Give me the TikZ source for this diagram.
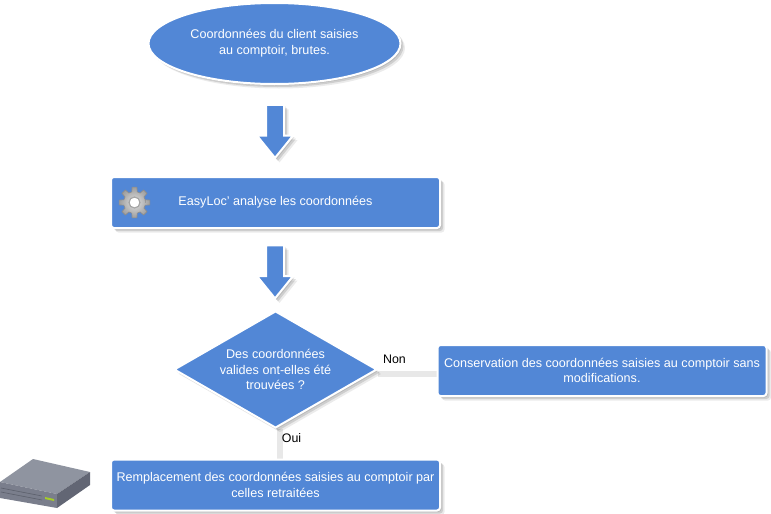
\documentclass[tikz,border=0pt]{standalone}
\usepackage{fontspec}
\setmainfont{Liberation Sans}
\usetikzlibrary{shapes.geometric,shapes.arrows,shadows,backgrounds,calc}
\definecolor{boxblue}{RGB}{82,135,214}
\tikzset{
  x=1pt,y=-1pt,
  softshadow/.style={
    drop shadow={shadow xshift=1.5pt,shadow yshift=-1.5pt,opacity=.10,fill=black},
    drop shadow={shadow xshift=3pt,shadow yshift=-3pt,opacity=.12,fill=black},
    drop shadow={shadow xshift=4.5pt,shadow yshift=-4.5pt,opacity=.08,fill=black}},
  shape base/.style={softshadow,draw=white,line width=2pt,fill=boxblue,text=white,
    align=center,font=\fontsize{12.6}{15.7}\selectfont,inner sep=0pt},
  procbox/.style={shape base,rectangle,rounded corners=3pt,minimum width=329pt,minimum height=51pt},
  startoval/.style={shape base,ellipse,minimum width=252pt,minimum height=81pt},
  decision/.style={shape base,diamond,aspect=1.75,minimum width=203pt,minimum height=117pt},
  flowarrow/.style={softshadow,draw=white,line width=2pt,fill=boxblue,single arrow,rotate=-90,
    anchor=tip,minimum height=53pt,single arrow head extend=9pt,
    single arrow tip angle=78,single arrow head indent=0pt,inner sep=0pt},
  linkshade/.style={draw=black!9,line width=6pt},
  linkline/.style={draw=white,line width=2.5pt},
  linklabel/.style={font=\fontsize{12.4}{14}\selectfont,text=black,inner sep=0pt},
  gearbody/.style={draw=black!45,line width=.6pt,inner color=black!12,outer color=black!38},
}
\newcommand{\shaftgap}{\phantom{\rule{1pt}{16pt}}}
\begin{document}
\begin{tikzpicture}
\useasboundingbox (0,0) rectangle (771,514);
\node[startoval] (start) at (274.5,43.5) {Coordonnées du client saisies\\au comptoir, brutes.};
\node[procbox] (analyse) at (275.5,202.5) {EasyLoc' analyse les coordonnées};
\node[decision] (valid) at (275.5,369.5) {Des coordonnées\\valides ont-elles été\\trouvées ?};
\node[procbox] (keep) at (602,370.5) {Conservation des coordonnées saisies au comptoir sans\\modifications.};
\node[procbox] (replace) at (275.5,485) {Remplacement des coordonnées saisies au comptoir par\\celles retraitées};
\node[flowarrow] (arrowa) at (275,159.5) {\shaftgap};
\node[flowarrow] (arrowb) at (275,300) {\shaftgap};
\node[linklabel] (non) at (394.5,359.5) {Non};
\node[linklabel] (oui) at (291.5,438.5) {Oui};
\begin{pgfonlayer}{background}
  \draw[linkshade] ([yshift=-4pt]valid.east) -- ([yshift=-4pt]valid.east -| keep.west);
  \draw[linkline] ([yshift=-.5pt]valid.east) -- ([yshift=-.5pt]valid.east -| keep.west);
  \draw[linkshade] ([xshift=4pt]valid.south) -- ([xshift=4pt]valid.south |- replace.north);
  \draw[linkline] ([xshift=.5pt]valid.south) -- ([xshift=.5pt]valid.south |- replace.north);
\end{pgfonlayer}
% gear
\begin{scope}[shift={(134.5,202.5)}]
  \path[gearbody] (11,0)
    \foreach \a in {0,45,...,315} { -- (\a-14:11) -- (\a-9:15.5) -- (\a+9:15.5) -- (\a+14:11) -- (\a+31:11)} -- cycle;
  \fill[white,draw=black!35,line width=1.2pt] (0,0) circle (5.5);
\end{scope}
% server
\fill[color={rgb,255:red,143;green,148;blue,160}] (0,482) -- (33,459) -- (90,472) -- (57,494) -- cycle;
\fill[color={rgb,255:red,122;green,126;blue,140}] (0,482) -- (57,494) -- (57,508) -- (0,498) -- cycle;
\fill[color={rgb,255:red,98;green,102;blue,116}] (57,494) -- (90,472) -- (90,485) -- (57,508) -- cycle;
\draw[color={rgb,255:red,92;green,96;blue,108},line width=.6pt] (1,488) -- (42,496) (1,492) -- (42,500);
\fill[color={rgb,255:red,165;green,205;blue,40}] (45,497) -- (54,499) -- (54,501) -- (45,499) -- cycle;
\end{tikzpicture}
\end{document}
